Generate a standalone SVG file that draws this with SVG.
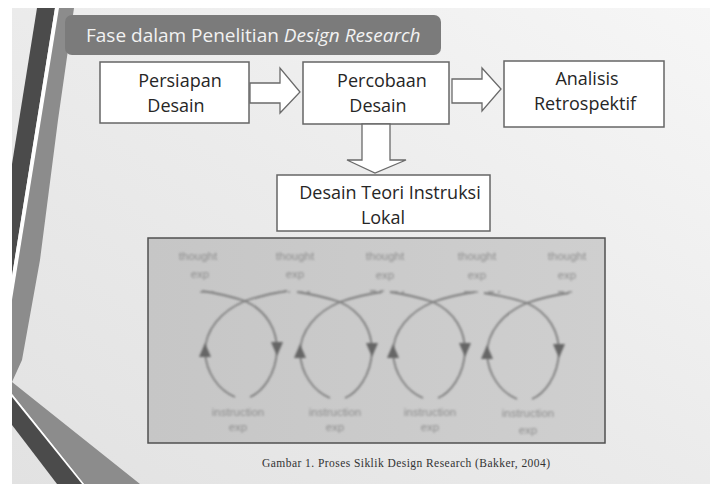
<svg xmlns="http://www.w3.org/2000/svg" width="710" height="484" viewBox="0 0 710 484">
<defs>
<linearGradient id="bg" x1="1" y1="0" x2="0" y2="1">
<stop offset="0" stop-color="#f6f6f6"/>
<stop offset="0.5" stop-color="#ebebeb"/>
<stop offset="1" stop-color="#e2e2e2"/>
</linearGradient>
<linearGradient id="fig" x1="0" y1="0" x2="1" y2="0">
<stop offset="0" stop-color="#c6c6c6"/>
<stop offset="1" stop-color="#cfcfcf"/>
</linearGradient>
<filter id="blur" x="-5%" y="-5%" width="110%" height="110%"><feGaussianBlur stdDeviation="0.8"/></filter>
<g id="loop">
<path d="M-43,-10 Q-22,-7 0,0 C22,10 32,29 32,49 C31,74 17,91 5,96"/>
<path d="M-10,96 C-27,89 -39,71 -40,51 C-40,29 -24,10 0,0 Q20,-7 42,-10"/>
<polygon points="-40,42 -46,56 -34,56" class="ah"/>
<polygon points="32,55 26,41 38,41" class="ah"/>
</g>
<style>
.box{fill:#ffffff;stroke:#666666;stroke-width:1.5}
.lbl{font-family:"Open Sans","Liberation Sans",sans-serif;font-size:18px;fill:#262626;text-anchor:middle}
.blk{fill:#ffffff;stroke:#6a6a6a;stroke-width:1.3;stroke-linejoin:miter}
.ln{fill:none;stroke:#7c7c7c;stroke-width:1.8}
.ah{fill:#666666;stroke:none}
.pt{font-family:"Liberation Sans",sans-serif;font-size:11.5px;fill:#8e8e8e;text-anchor:middle}
.dash{stroke:#8a8a8a;stroke-width:1.6;stroke-dasharray:6 4;fill:none}
</style>
</defs>
<rect x="0" y="0" width="710" height="484" fill="#ffffff"/>
<rect x="12" y="8" width="698" height="476" fill="url(#bg)"/>
<!-- decorative stripes -->
<polygon points="37,8 55,8 12,276 12,164" fill="#4b4b4b"/>
<polygon points="55,8 59,8 12,300 12,276" fill="#ffffff"/>
<polygon points="59,8 74,8 58,120 40,260 22,360 12,382 140,484 84,484 12,394 12,300" fill="#8c8c8c"/>
<polygon points="12,394 84,484 82,484 12,397" fill="#ffffff"/>
<polygon points="12,397 82,484 57,484 12,425" fill="#4b4b4b"/>
<!-- title -->
<g id="title">
<rect x="65" y="15" width="376" height="40" rx="7" fill="#7b7b7b"/>
<text x="86" y="42" font-family="Open Sans,Liberation Sans,sans-serif" font-size="19" fill="#f2f2f2">Fase dalam Penelitian <tspan font-style="italic">Design Research</tspan></text>
</g>
<!-- nodes -->
<g id="persiapan">
<rect class="box" x="100" y="62" width="149" height="61"/>
<text class="lbl" x="180" y="87">Persiapan</text>
<text class="lbl" x="176" y="112">Desain</text>
</g>
<g id="percobaan">
<rect class="box" x="303" y="62" width="146" height="62"/>
<text class="lbl" x="382" y="87">Percobaan</text>
<text class="lbl" x="378" y="112">Desain</text>
</g>
<g id="analisis">
<rect class="box" x="504" y="61" width="160" height="66"/>
<text class="lbl" x="587" y="85">Analisis</text>
<text class="lbl" x="585" y="110">Retrospektif</text>
</g>
<g id="desain-teori">
<rect class="box" x="277" y="175" width="213" height="56"/>
<text class="lbl" x="390" y="199">Desain Teori Instruksi</text>
<text class="lbl" x="383" y="224">Lokal</text>
</g>
<!-- connectors -->
<g id="connectors">
<polygon class="blk" points="250,83 280,83 280,68 300,92 280,113 280,103 250,103"/>
<polygon class="blk" points="452,79 482,79 482,68 501,89 482,111 482,103 452,103"/>
<polygon class="blk" points="362,124 390,124 390,160 406,160 375,173 347,160 362,160"/>
</g>
<!-- figure -->
<g id="figure">
<rect x="148" y="238" width="457" height="205" fill="url(#fig)" stroke="#505050" stroke-width="1.5"/>
<g filter="url(#blur)">
<g class="ln">
<use href="#loop" transform="translate(245,301)"/>
<use href="#loop" transform="translate(340,302)"/>
<use href="#loop" transform="translate(433,302)"/>
<use href="#loop" transform="translate(527,303)"/>
</g>
<path class="dash" d="M200,292 H214 M278,292 H290 M297,292 H310 M370,291 H384 M392,292 H404 M464,292 H478 M488,292 H500 M558,292 H572"/>
<text class="pt" x="198" y="260">thought</text>
<text class="pt" x="200" y="278">exp</text>
<text class="pt" x="295" y="260">thought</text>
<text class="pt" x="295" y="278">exp</text>
<text class="pt" x="385" y="260">thought</text>
<text class="pt" x="385" y="279">exp</text>
<text class="pt" x="477" y="260">thought</text>
<text class="pt" x="477" y="279">exp</text>
<text class="pt" x="567" y="260">thought</text>
<text class="pt" x="567" y="279">exp</text>
<text class="pt" x="238" y="416">instruction</text>
<text class="pt" x="238" y="431">exp</text>
<text class="pt" x="335" y="416">instruction</text>
<text class="pt" x="335" y="431">exp</text>
<text class="pt" x="430" y="416">instruction</text>
<text class="pt" x="430" y="431">exp</text>
<text class="pt" x="528" y="417">instruction</text>
<text class="pt" x="528" y="434">exp</text>
</g>
</g>
<g id="caption">
<text x="262" y="467" font-family="Liberation Serif,Times New Roman,serif" font-size="11.5" fill="#333333" textLength="288" lengthAdjust="spacing">Gambar 1. Proses Siklik Design Research (Bakker, 2004)</text>
</g>
</svg>
